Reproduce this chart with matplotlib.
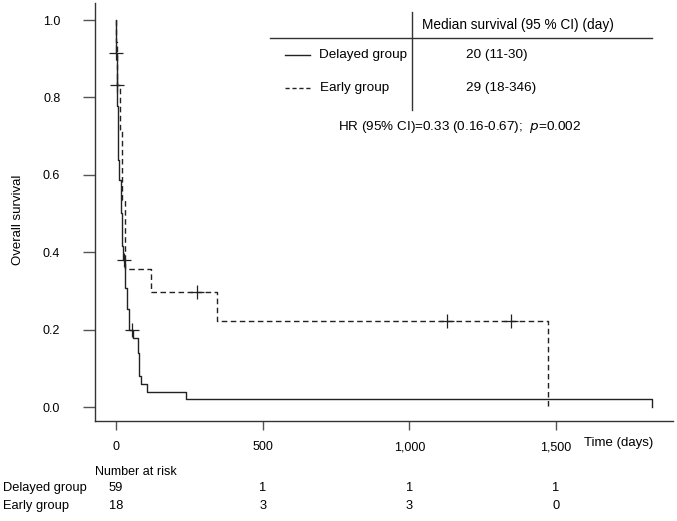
import numpy as np
import matplotlib
matplotlib.use("Agg")
import matplotlib.pyplot as plt
from matplotlib.lines import Line2D

plt.rcParams['font.family'] = ['Liberation Sans', 'DejaVu Sans']

# ---- data ----
delayed_times = [0, 0.5, 2, 6, 10, 16, 18, 20, 24, 31, 36, 44, 58, 74, 76, 78, 80, 86, 107, 238, 1827]
delayed_surv = [1.0, 0.915, 0.777, 0.639, 0.587, 0.535, 0.501, 0.415, 0.380, 0.307, 0.253, 0.199,
                0.179, 0.159, 0.139, 0.119, 0.080, 0.060, 0.040, 0.020, 0.0]
delayed_censor = [1, 27, 53]

early_times = [0, 1, 2, 3, 14, 22, 29, 31, 118, 346, 1472]
early_surv = [1.0, 0.944, 0.889, 0.833, 0.714, 0.536, 0.476, 0.357, 0.298, 0.223, 0.0]
early_censor = [4, 275, 1130, 1348]

x_ticks = [0, 500, 1000, 1500]
x_tick_labels = ["0", "500", "1,000", "1,500"]
y_ticks = [0.0, 0.2, 0.4, 0.6, 0.8, 1.0]

risk_groups = ["Delayed group", "Early group"]
risk_delayed = [59, 1, 1, 1]
risk_early = [18, 3, 3, 0]

median_delayed = "20 (11-30)"
median_early = "29 (18-346)"

W, H = 677, 521
fig = plt.figure(figsize=(W / 100, H / 100), dpi=100)


def fx(x):
    return x / W


def fy(y):
    return 1 - y / H


ax = fig.add_axes([fx(95), fy(421), fx(673) - fx(95), fy(3) - fy(421)])
ax.set_xlim(-71.6, 1899)
ax.set_ylim(-0.036, 1.044)

col = '#222222'


def surv_at(times, surv, t):
    idx = np.searchsorted(times, t, side='right') - 1
    return surv[idx]


ax.step(delayed_times, delayed_surv, where='post', color=col, lw=1.0, ls='-')
ax.step(early_times, early_surv, where='post', color=col, lw=1.0, ls=(0, (4, 2.5)))

for t in delayed_censor:
    ax.plot([t], [surv_at(delayed_times, delayed_surv, t)], marker='+', ms=10, mew=0.9, color=col)
for t in early_censor:
    ax.plot([t], [surv_at(early_times, early_surv, t)], marker='+', ms=10, mew=0.9, color=col)

for s in ['top', 'right']:
    ax.spines[s].set_visible(False)
for s in ['left', 'bottom']:
    ax.spines[s].set_color('#333333')
    ax.spines[s].set_linewidth(1.0)

ax.set_xticks(x_ticks)
ax.set_xticklabels(x_tick_labels)
ax.set_yticks(y_ticks)
ax.set_yticklabels([f"{v:.1f}" for v in y_ticks])
ax.tick_params(axis='y', direction='out', length=9, width=1.0, color='#555555', pad=16, labelsize=9)
ax.tick_params(axis='x', direction='out', length=6.5, width=1.0, color='#555555', pad=8, labelsize=9)

fig.text(fx(18), fy(220), "Overall survival", rotation=90, ha='center', va='center', fontsize=9.5)
fig.text(fx(584), fy(443), "Time (days)", ha='left', va='center', fontsize=9.5)

# number at risk table
fig.text(fx(95), fy(472), "Number at risk", ha='left', va='center', fontsize=9)
row_y = [488, 506]
for gname, ry, vals in zip(risk_groups, row_y, [risk_delayed, risk_early]):
    fig.text(fx(3), fy(ry), gname, ha='left', va='center', fontsize=9.3)
    for xt, v in zip(x_ticks, vals):
        xpix = ax.transData.transform((xt, 0))[0]
        fig.text(xpix / W, fy(ry), str(v), ha='center', va='center', fontsize=9.3)

# median survival table
fig.add_artist(Line2D([fx(270), fx(652)], [fy(38), fy(38)], color='#333333', lw=1.0))
fig.add_artist(Line2D([fx(412), fx(412)], [fy(12), fy(110)], color='#333333', lw=1.0))
fig.text(fx(422), fy(25), "Median survival (95 % CI) (day)", ha='left', va='center', fontsize=9.8)
fig.add_artist(Line2D([fx(285), fx(310)], [fy(55), fy(55)], color=col, lw=1.0))
fig.add_artist(Line2D([fx(285), fx(310)], [fy(88), fy(88)], color=col, lw=1.0, ls=(0, (3, 2))))
fig.text(fx(319), fy(55), risk_groups[0], ha='left', va='center', fontsize=9.7)
fig.text(fx(320), fy(88), risk_groups[1], ha='left', va='center', fontsize=9.7)
fig.text(fx(466), fy(55), median_delayed, ha='left', va='center', fontsize=9.7)
fig.text(fx(466), fy(88), median_early, ha='left', va='center', fontsize=9.7)
fig.text(fx(338), fy(127), r"HR (95% CI)=0.33 (0.16-0.67);  $\it{p}$=0.002", ha='left', va='center', fontsize=9.7)

fig.savefig("out.png", dpi=100)
